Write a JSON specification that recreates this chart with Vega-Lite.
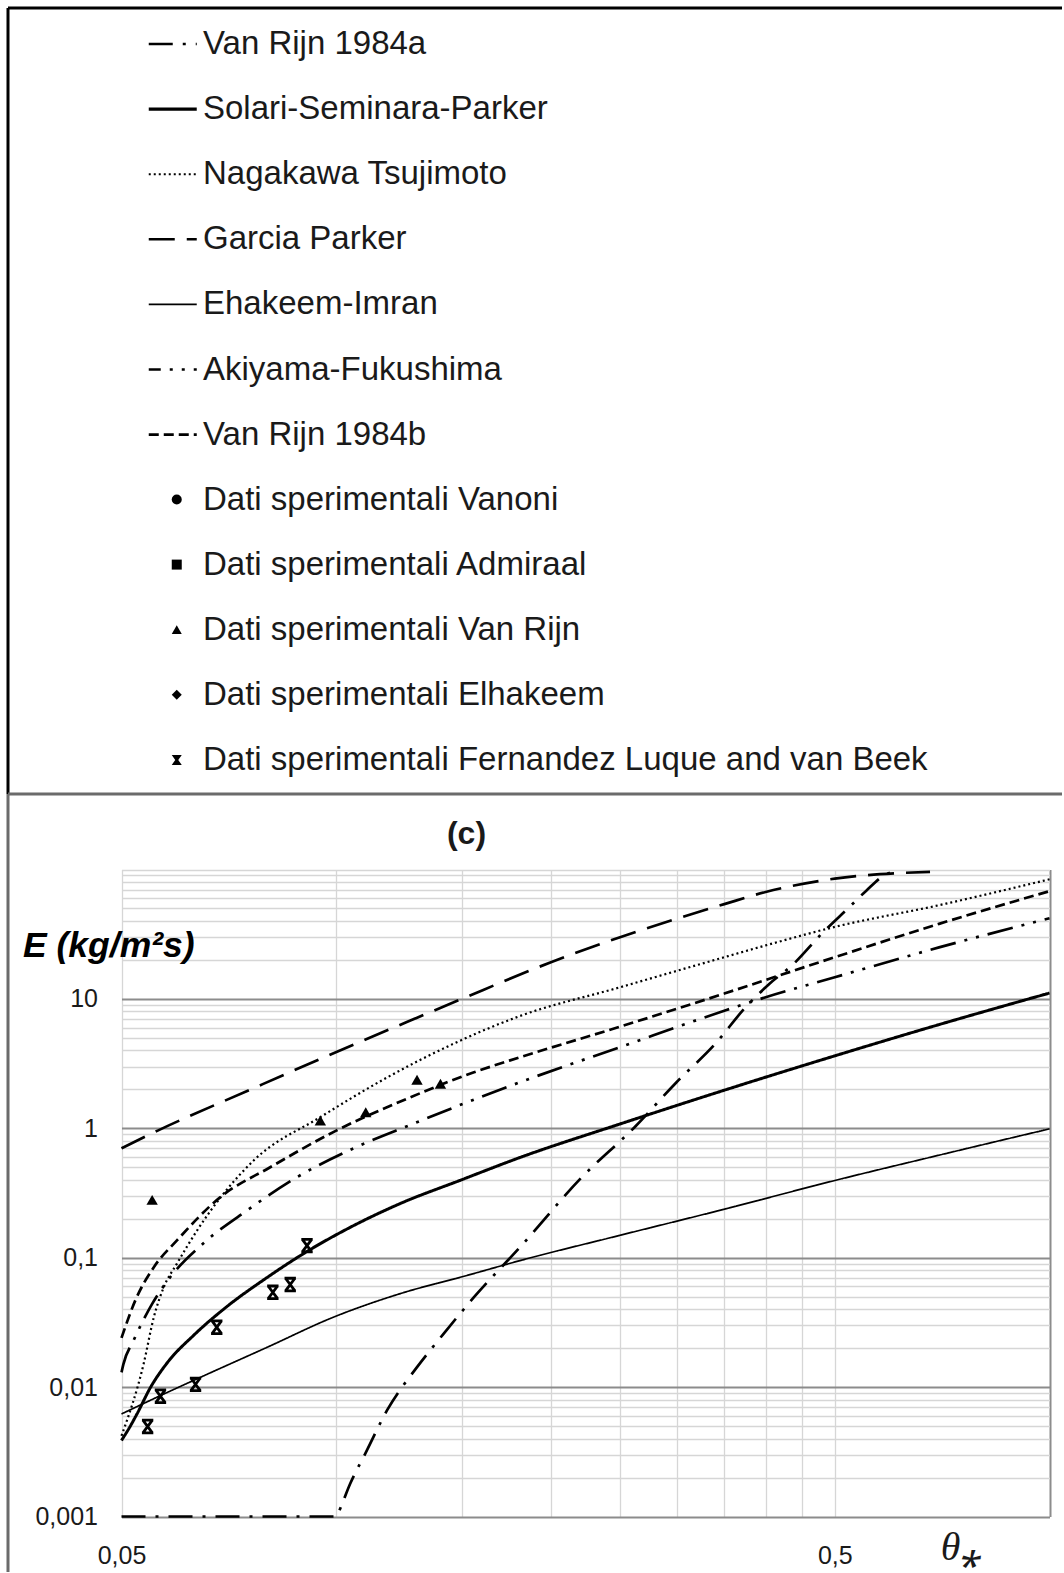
{
  "$schema": "https://vega.github.io/schema/vega-lite/v6.json",
  "background": "white",
  "padding": {"left": 6, "top": 6, "right": 0, "bottom": 0},
  "autosize": {"type": "pad"},
  "config": {
    "font": "Liberation Sans",
    "view": {"stroke": null},
    "legend": {"padding": 0, "titlePadding": 0}
  },
  "datasets": {
    "curves": [
      {"series": "Garcia Parker", "theta": 0.05, "E": 0.70},
      {"series": "Garcia Parker", "theta": 0.0562, "E": 0.96},
      {"series": "Garcia Parker", "theta": 0.0753, "E": 1.96},
      {"series": "Garcia Parker", "theta": 0.0974, "E": 3.65},
      {"series": "Garcia Parker", "theta": 0.129, "E": 7.05},
      {"series": "Garcia Parker", "theta": 0.15, "E": 10},
      {"series": "Garcia Parker", "theta": 0.2, "E": 19.2},
      {"series": "Garcia Parker", "theta": 0.25, "E": 30},
      {"series": "Garcia Parker", "theta": 0.3, "E": 41.6},
      {"series": "Garcia Parker", "theta": 0.35, "E": 54},
      {"series": "Garcia Parker", "theta": 0.4, "E": 67},
      {"series": "Garcia Parker", "theta": 0.5, "E": 85},
      {"series": "Garcia Parker", "theta": 0.62, "E": 94},
      {"series": "Garcia Parker", "theta": 0.68, "E": 96},

      {"series": "Nagakawa Tsujimoto", "theta": 0.05, "E": 0.0042},
      {"series": "Nagakawa Tsujimoto", "theta": 0.0537, "E": 0.0151},
      {"series": "Nagakawa Tsujimoto", "theta": 0.0555, "E": 0.0347},
      {"series": "Nagakawa Tsujimoto", "theta": 0.0573, "E": 0.059},
      {"series": "Nagakawa Tsujimoto", "theta": 0.0598, "E": 0.090},
      {"series": "Nagakawa Tsujimoto", "theta": 0.0638, "E": 0.162},
      {"series": "Nagakawa Tsujimoto", "theta": 0.0766, "E": 0.564},
      {"series": "Nagakawa Tsujimoto", "theta": 0.095, "E": 1.22},
      {"series": "Nagakawa Tsujimoto", "theta": 0.118, "E": 2.48},
      {"series": "Nagakawa Tsujimoto", "theta": 0.146, "E": 4.5},
      {"series": "Nagakawa Tsujimoto", "theta": 0.18, "E": 7.3},
      {"series": "Nagakawa Tsujimoto", "theta": 0.25, "E": 12.3},
      {"series": "Nagakawa Tsujimoto", "theta": 0.35, "E": 21},
      {"series": "Nagakawa Tsujimoto", "theta": 0.4, "E": 25.9},
      {"series": "Nagakawa Tsujimoto", "theta": 0.5, "E": 36},
      {"series": "Nagakawa Tsujimoto", "theta": 0.7, "E": 53},
      {"series": "Nagakawa Tsujimoto", "theta": 1.0, "E": 84},

      {"series": "Van Rijn 1984b", "theta": 0.05, "E": 0.024},
      {"series": "Van Rijn 1984b", "theta": 0.0523, "E": 0.047},
      {"series": "Van Rijn 1984b", "theta": 0.0555, "E": 0.0845},
      {"series": "Van Rijn 1984b", "theta": 0.0598, "E": 0.136},
      {"series": "Van Rijn 1984b", "theta": 0.0688, "E": 0.294},
      {"series": "Van Rijn 1984b", "theta": 0.0808, "E": 0.50},
      {"series": "Van Rijn 1984b", "theta": 0.1, "E": 0.96},
      {"series": "Van Rijn 1984b", "theta": 0.124, "E": 1.64},
      {"series": "Van Rijn 1984b", "theta": 0.156, "E": 2.71},
      {"series": "Van Rijn 1984b", "theta": 0.181, "E": 3.54},
      {"series": "Van Rijn 1984b", "theta": 0.25, "E": 6.1},
      {"series": "Van Rijn 1984b", "theta": 0.35, "E": 11},
      {"series": "Van Rijn 1984b", "theta": 0.5, "E": 21},
      {"series": "Van Rijn 1984b", "theta": 0.7, "E": 38},
      {"series": "Van Rijn 1984b", "theta": 1.0, "E": 68},

      {"series": "Akiyama-Fukushima", "theta": 0.05, "E": 0.013},
      {"series": "Akiyama-Fukushima", "theta": 0.0503, "E": 0.015},
      {"series": "Akiyama-Fukushima", "theta": 0.052, "E": 0.023},
      {"series": "Akiyama-Fukushima", "theta": 0.0552, "E": 0.044},
      {"series": "Akiyama-Fukushima", "theta": 0.0585, "E": 0.0706},
      {"series": "Akiyama-Fukushima", "theta": 0.0652, "E": 0.13},
      {"series": "Akiyama-Fukushima", "theta": 0.075, "E": 0.232},
      {"series": "Akiyama-Fukushima", "theta": 0.0881, "E": 0.419},
      {"series": "Akiyama-Fukushima", "theta": 0.1057, "E": 0.70},
      {"series": "Akiyama-Fukushima", "theta": 0.128, "E": 1.08},
      {"series": "Akiyama-Fukushima", "theta": 0.157, "E": 1.69},
      {"series": "Akiyama-Fukushima", "theta": 0.181, "E": 2.27},
      {"series": "Akiyama-Fukushima", "theta": 0.25, "E": 4.24},
      {"series": "Akiyama-Fukushima", "theta": 0.35, "E": 8.1},
      {"series": "Akiyama-Fukushima", "theta": 0.4, "E": 10.3},
      {"series": "Akiyama-Fukushima", "theta": 0.5, "E": 14.7},
      {"series": "Akiyama-Fukushima", "theta": 0.7, "E": 25},
      {"series": "Akiyama-Fukushima", "theta": 1.0, "E": 42},

      {"series": "Van Rijn 1984a", "theta": 0.05, "E": 0.001},
      {"series": "Van Rijn 1984a", "theta": 0.1, "E": 0.001},
      {"series": "Van Rijn 1984a", "theta": 0.1005, "E": 0.00105},
      {"series": "Van Rijn 1984a", "theta": 0.1046, "E": 0.00179},
      {"series": "Van Rijn 1984a", "theta": 0.1104, "E": 0.00324},
      {"series": "Van Rijn 1984a", "theta": 0.1178, "E": 0.0066},
      {"series": "Van Rijn 1984a", "theta": 0.1298, "E": 0.01426},
      {"series": "Van Rijn 1984a", "theta": 0.1414, "E": 0.0258},
      {"series": "Van Rijn 1984a", "theta": 0.156, "E": 0.0495},
      {"series": "Van Rijn 1984a", "theta": 0.181, "E": 0.1205},
      {"series": "Van Rijn 1984a", "theta": 0.221, "E": 0.419},
      {"series": "Van Rijn 1984a", "theta": 0.262, "E": 1.02},
      {"series": "Van Rijn 1984a", "theta": 0.30, "E": 2.27},
      {"series": "Van Rijn 1984a", "theta": 0.34, "E": 4.5},
      {"series": "Van Rijn 1984a", "theta": 0.375, "E": 8.63},
      {"series": "Van Rijn 1984a", "theta": 0.405, "E": 13.1},
      {"series": "Van Rijn 1984a", "theta": 0.438, "E": 18.7},
      {"series": "Van Rijn 1984a", "theta": 0.479, "E": 31.8},
      {"series": "Van Rijn 1984a", "theta": 0.524, "E": 51.2},
      {"series": "Van Rijn 1984a", "theta": 0.554, "E": 68.9},
      {"series": "Van Rijn 1984a", "theta": 0.586, "E": 89.9},
      {"series": "Van Rijn 1984a", "theta": 0.61, "E": 98},

      {"series": "Solari-Seminara-Parker", "theta": 0.05, "E": 0.00387},
      {"series": "Solari-Seminara-Parker", "theta": 0.0515, "E": 0.00505},
      {"series": "Solari-Seminara-Parker", "theta": 0.0526, "E": 0.00625},
      {"series": "Solari-Seminara-Parker", "theta": 0.0549, "E": 0.00993},
      {"series": "Solari-Seminara-Parker", "theta": 0.058, "E": 0.0155},
      {"series": "Solari-Seminara-Parker", "theta": 0.0631, "E": 0.0251},
      {"series": "Solari-Seminara-Parker", "theta": 0.0703, "E": 0.042},
      {"series": "Solari-Seminara-Parker", "theta": 0.080, "E": 0.0703},
      {"series": "Solari-Seminara-Parker", "theta": 0.091, "E": 0.1117},
      {"series": "Solari-Seminara-Parker", "theta": 0.1014, "E": 0.1567},
      {"series": "Solari-Seminara-Parker", "theta": 0.123, "E": 0.2624},
      {"series": "Solari-Seminara-Parker", "theta": 0.149, "E": 0.395},
      {"series": "Solari-Seminara-Parker", "theta": 0.181, "E": 0.595},
      {"series": "Solari-Seminara-Parker", "theta": 0.25, "E": 1.08},
      {"series": "Solari-Seminara-Parker", "theta": 0.35, "E": 1.97},
      {"series": "Solari-Seminara-Parker", "theta": 0.5, "E": 3.63},
      {"series": "Solari-Seminara-Parker", "theta": 0.7, "E": 6.33},
      {"series": "Solari-Seminara-Parker", "theta": 1.0, "E": 11.1},

      {"series": "Ehakeem-Imran", "theta": 0.05, "E": 0.0062},
      {"series": "Ehakeem-Imran", "theta": 0.0567, "E": 0.0086},
      {"series": "Ehakeem-Imran", "theta": 0.0645, "E": 0.0119},
      {"series": "Ehakeem-Imran", "theta": 0.080, "E": 0.0203},
      {"series": "Ehakeem-Imran", "theta": 0.0991, "E": 0.0347},
      {"series": "Ehakeem-Imran", "theta": 0.123, "E": 0.0528},
      {"series": "Ehakeem-Imran", "theta": 0.1525, "E": 0.0729},
      {"series": "Ehakeem-Imran", "theta": 0.181, "E": 0.095},
      {"series": "Ehakeem-Imran", "theta": 0.25, "E": 0.149},
      {"series": "Ehakeem-Imran", "theta": 0.35, "E": 0.237},
      {"series": "Ehakeem-Imran", "theta": 0.5, "E": 0.395},
      {"series": "Ehakeem-Imran", "theta": 0.7, "E": 0.62},
      {"series": "Ehakeem-Imran", "theta": 1.0, "E": 0.99}
    ],
    "samples": [
      {"series": "Dati sperimentali Van Rijn", "theta": 0.0552, "E": 0.28},
      {"series": "Dati sperimentali Van Rijn", "theta": 0.095, "E": 1.15},
      {"series": "Dati sperimentali Van Rijn", "theta": 0.110, "E": 1.33},
      {"series": "Dati sperimentali Van Rijn", "theta": 0.1298, "E": 2.37},
      {"series": "Dati sperimentali Van Rijn", "theta": 0.140, "E": 2.21},
      {"series": "Dati sperimentali Fernandez Luque and van Beek", "theta": 0.0544, "E": 0.00496},
      {"series": "Dati sperimentali Fernandez Luque and van Beek", "theta": 0.0567, "E": 0.0085},
      {"series": "Dati sperimentali Fernandez Luque and van Beek", "theta": 0.0635, "E": 0.0105},
      {"series": "Dati sperimentali Fernandez Luque and van Beek", "theta": 0.068, "E": 0.029},
      {"series": "Dati sperimentali Fernandez Luque and van Beek", "theta": 0.0815, "E": 0.054},
      {"series": "Dati sperimentali Fernandez Luque and van Beek", "theta": 0.0862, "E": 0.062},
      {"series": "Dati sperimentali Fernandez Luque and van Beek", "theta": 0.091, "E": 0.124}
    ]
  },
  "spacing": 0,
  "bounds": "flush",
  "vconcat": [
    {
      "width": 1054,
      "height": 786,
      "data": {"values": []},
      "mark": "rect",
      "view": {"stroke": "#000000", "strokeWidth": 3, "strokeDash": [1054, 1840, 786, 0]}
    },
    {
      "width": 1054,
      "height": 778,
      "view": {"stroke": "#6b6b6b", "strokeWidth": 3, "strokeDash": [1054, 1832, 778, 0]},
      "title": {
        "text": "(c)",
        "frame": "group",
        "anchor": "middle",
        "offset": 0,
        "dx": -68.5,
        "dy": 72,
        "baseline": "middle",
        "fontSize": 32,
        "fontWeight": "bold",
        "color": "#1a1a1a"
      },
      "resolve": {"axis": {"x": "independent", "y": "independent"}},
      "layer": [
        {
          "data": {"name": "curves"},
          "encoding": {
            "x": {
              "field": "theta",
              "type": "quantitative",
              "scale": {"type": "log", "domain": [0.05, 1], "range": [113.5, 1041.5], "nice": false, "zero": false},
              "axis": {
                "orient": "top",
                "values": [0.05, 0.1, 0.15, 0.2, 0.25, 0.3, 0.35, 0.4, 0.45, 0.5, 1],
                "grid": true,
                "labels": false,
                "ticks": false,
                "domain": false,
                "title": null,
                "gridColor": {"condition": {"test": "datum.value > 0.9", "value": "#8c8c8c"}, "value": "#d6d6d6"},
                "gridWidth": {"condition": {"test": "datum.value > 0.9", "value": 2}, "value": 1.3}
              }
            },
            "y": {
              "field": "E",
              "type": "quantitative",
              "scale": {"type": "log", "domain": [0.001, 100], "range": [722.5, 75.5], "nice": false, "zero": false},
              "axis": {
                "orient": "left",
                "offset": -113.5,
                "values": [0.001, 0.002, 0.003, 0.004, 0.005, 0.006, 0.007, 0.008, 0.009,
                           0.01, 0.02, 0.03, 0.04, 0.05, 0.06, 0.07, 0.08, 0.09,
                           0.1, 0.2, 0.3, 0.4, 0.5, 0.6, 0.7, 0.8, 0.9,
                           1, 2, 3, 4, 5, 6, 7, 8, 9,
                           10, 20, 30, 40, 50, 60, 70, 80, 90, 100],
                "grid": true,
                "ticks": false,
                "domain": false,
                "labelOverlap": false,
                "labelFlush": false,
                "labelExpr": "abs(log(datum.value) / LN10 - round(log(datum.value) / LN10)) < 0.001 && datum.value < 50 ? replace(format(datum.value, '~g'), '.', ',') : ''",
                "labelFontSize": 25,
                "labelColor": "#1a1a1a",
                "labelPadding": 24,
                "gridColor": {"condition": {"test": "abs(log(datum.value) / LN10 - round(log(datum.value) / LN10)) < 0.001 && datum.value < 50", "value": "#8c8c8c"}, "value": "#d6d6d6"},
                "gridWidth": {"condition": {"test": "abs(log(datum.value) / LN10 - round(log(datum.value) / LN10)) < 0.001 && datum.value < 50", "value": 2}, "value": 1.3},
                "title": "E (kg/m²s)",
                "titleAngle": 0,
                "titleAlign": "left",
                "titleBaseline": "alphabetic",
                "titleX": -99,
                "titleY": 162,
                "titleFontSize": 35.5,
                "titleFontWeight": "bold",
                "titleFontStyle": "italic",
                "titleColor": "#000000"
              }
            },
            "strokeDash": {
              "field": "series",
              "type": "nominal",
              "scale": {
                "domain": ["Van Rijn 1984a", "Solari-Seminara-Parker", "Nagakawa Tsujimoto", "Garcia Parker", "Ehakeem-Imran", "Akiyama-Fukushima", "Van Rijn 1984b"],
                "range": [[24, 10, 3, 10], [1, 0], [2, 3], [26, 12], [1, 0], [26, 9, 3, 9, 3, 9], [10, 5]]
              },
              "legend": {
                "orient": "none",
                "legendX": 148.25,
                "legendY": 19.5,
                "title": null,
                "padding": 0,
                "symbolType": "stroke",
                "symbolSize": 2304,
                "symbolStrokeWidth": 2.6,
                "symbolStrokeColor": "#000000",
                "rowPadding": 31.1,
                "labelFontSize": 33,
                "labelColor": "#1a1a1a",
                "labelOffset": 13.75,
                "labelLimit": 950,
                "encode": {
                  "symbols": {
                    "update": {
                      "strokeWidth": {"signal": "datum.value == 'Solari-Seminara-Parker' ? 3.2 : datum.value == 'Ehakeem-Imran' ? 1.6 : datum.value == 'Nagakawa Tsujimoto' ? 2 : 2.6"},
                      "strokeDashOffset": {"signal": "datum.value == 'Akiyama-Fukushima' ? 14 : 0"}
                    }
                  }
                }
              }
            }
          },
          "layer": [
            {
              "transform": [{"filter": {"field": "series", "oneOf": ["Garcia Parker", "Van Rijn 1984b", "Akiyama-Fukushima", "Van Rijn 1984a"]}}],
              "mark": {"type": "line", "color": "#000000", "strokeWidth": 2.7, "strokeCap": "butt", "clip": false, "interpolate": "monotone"}
            },
            {
              "transform": [{"filter": {"field": "series", "equal": "Solari-Seminara-Parker"}}],
              "mark": {"type": "line", "color": "#000000", "strokeWidth": 3, "strokeCap": "butt", "clip": false, "interpolate": "monotone"}
            },
            {
              "transform": [{"filter": {"field": "series", "equal": "Nagakawa Tsujimoto"}}],
              "mark": {"type": "line", "color": "#000000", "strokeWidth": 2.2, "strokeCap": "butt", "clip": false, "interpolate": "monotone"}
            },
            {
              "transform": [{"filter": {"field": "series", "equal": "Ehakeem-Imran"}}],
              "mark": {"type": "line", "color": "#000000", "strokeWidth": 1.7, "strokeCap": "butt", "clip": false, "interpolate": "monotone"}
            }
          ]
        },
        {
          "data": {"name": "samples"},
          "transform": [{"filter": {"field": "series", "equal": "Dati sperimentali Van Rijn"}}],
          "mark": {"type": "point", "filled": true, "color": "#000000", "size": 130, "opacity": 1},
          "encoding": {
            "x": {
              "field": "theta",
              "type": "quantitative",
              "scale": {"type": "log", "domain": [0.05, 1], "range": [113.5, 1041.5], "nice": false, "zero": false},
              "axis": {
                "orient": "bottom",
                "offset": -55.5,
                "values": [0.05, 0.5],
                "grid": false,
                "ticks": false,
                "domain": false,
                "labelOverlap": false,
                "labelFlush": false,
                "labelExpr": "replace(format(datum.value, '~g'), '.', ',')",
                "labelFontSize": 25,
                "labelColor": "#1a1a1a",
                "labelPadding": 27,
                "title": "θ⁎",
                "titleFont": "Liberation Serif",
                "titleFontStyle": "italic",
                "titleFontWeight": "normal",
                "titleFontSize": 40,
                "titleColor": "#1a1a1a",
                "titleAlign": "center",
                "titleBaseline": "middle",
                "titleX": 953,
                "titleY": 31
              }
            },
            "y": {
              "field": "E",
              "type": "quantitative",
              "scale": {"type": "log", "domain": [0.001, 100], "range": [722.5, 75.5], "nice": false, "zero": false},
              "axis": null
            },
            "shape": {
              "field": "series",
              "type": "nominal",
              "scale": {
                "domain": ["Dati sperimentali Vanoni", "Dati sperimentali Admiraal", "Dati sperimentali Van Rijn", "Dati sperimentali Elhakeem", "Dati sperimentali Fernandez Luque and van Beek"],
                "range": ["circle", "square", "triangle-up", "diamond", "M-1,-1H1L0.3,0L1,1H-1L-0.3,0Z"]
              },
              "legend": {
                "orient": "none",
                "legendX": 152.25,
                "legendY": 475,
                "title": null,
                "padding": 0,
                "symbolSize": 100,
                "symbolFillColor": "#000000",
                "symbolStrokeColor": "#000000",
                "symbolStrokeWidth": 1,
                "rowPadding": 31.1,
                "labelFontSize": 33,
                "labelColor": "#1a1a1a",
                "labelOffset": 9.75,
                "labelLimit": 950,
                "encode": {
                  "symbols": {
                    "update": {
                      "fill": {"value": "#000000"},
                      "stroke": {"value": "#000000"},
                      "size": {"signal": "datum.value == 'Dati sperimentali Van Rijn' ? 120 : datum.value == 'Dati sperimentali Elhakeem' ? 45 : datum.value == 'Dati sperimentali Fernandez Luque and van Beek' ? 80 : datum.value == 'Dati sperimentali Vanoni' ? 95 : 80"}
                    }
                  }
                }
              }
            }
          }
        },
        {
          "data": {"name": "samples"},
          "transform": [{"filter": {"field": "series", "equal": "Dati sperimentali Fernandez Luque and van Beek"}}],
          "mark": {"type": "point", "filled": false, "color": "#000000", "strokeWidth": 2.8, "size": 160, "opacity": 1, "shape": "M-0.75,-1L0.75,1M0.75,-1L-0.75,1M-0.9,-1H0.9M-0.9,1H0.9"},
          "encoding": {
            "x": {
              "field": "theta",
              "type": "quantitative",
              "scale": {"type": "log", "domain": [0.05, 1], "range": [113.5, 1041.5], "nice": false, "zero": false},
              "axis": null
            },
            "y": {
              "field": "E",
              "type": "quantitative",
              "scale": {"type": "log", "domain": [0.001, 100], "range": [722.5, 75.5], "nice": false, "zero": false},
              "axis": null
            }
          }
        }
      ]
    }
  ]
}
